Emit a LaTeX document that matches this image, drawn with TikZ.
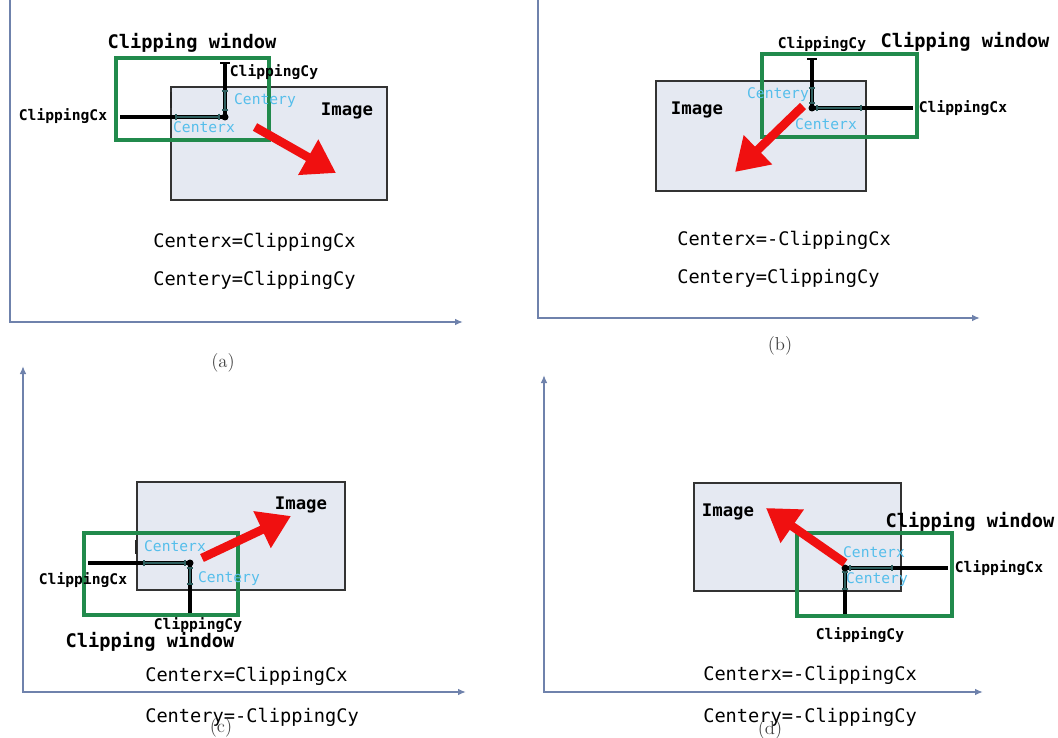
\documentclass[tikz,border=0pt]{standalone}
\usepackage{fontspec}
\usetikzlibrary{arrows.meta}
\newfontfamily\monofont{DejaVu Sans Mono}
\definecolor{axisblue}{HTML}{6F82AC}
\definecolor{imgfill}{HTML}{E5E9F2}
\definecolor{wingreen}{HTML}{218A4C}
\definecolor{measteal}{HTML}{2E5E5E}
\definecolor{lblblue}{HTML}{55BEEB}
\definecolor{motionred}{HTML}{F01010}
\newcommand\lblfont{\monofont\fontsize{11}{12}\selectfont}
\newcommand\titlefont{\monofont\bfseries\fontsize{14}{16}\selectfont}
\newcommand\imgfont{\monofont\bfseries\fontsize{13}{15}\selectfont}
\newcommand\eqfont{\monofont\fontsize{14}{16}\selectfont}
\newcommand\capfont{\fontsize{14}{16}\selectfont}
\begin{document}
\begin{tikzpicture}[x=0.75pt,y=-0.75pt,
  axisline/.style={draw=axisblue,line width=1.5pt,line join=miter},
  axtip/.style={-{Latex[length=6pt,width=5pt]}},
  imgbox/.style={draw=black!80,fill=imgfill,line width=1.1pt},
  clipwin/.style={draw=wingreen,line width=2.4pt},
  guide/.style={draw=black,line width=2.4pt},
  meas/.style={draw=measteal,line width=2pt,{Bar[width=5pt,line width=1.2pt]}-{Bar[width=5pt,line width=1.2pt]}},
  tickmark/.style={draw=black!85,line width=2pt},
  motion/.style={draw=motionred,line width=6.5pt,-{Triangle[length=24pt,width=29pt]}},
  lbl/.style={font=\lblfont\bfseries,text=black,inner sep=0pt},
  blbl/.style={font=\lblfont,text=lblblue,inner sep=0pt},
  wintitle/.style={font=\titlefont,text=black,inner sep=0pt},
  imglbl/.style={font=\imgfont,text=black,inner sep=0pt},
  eqtxt/.style={font=\eqfont,text=black,inner sep=0pt,anchor=west},
  captxt/.style={font=\capfont,text=black!75,inner sep=0pt}]
\useasboundingbox (0,0) rectangle (1058,738);

% ---------- (a) ----------
\coordinate (a-top) at (10,0);
\coordinate (a-o) at (10,322);
\coordinate (a-end) at (463,322);
\draw[axisline,axtip] (a-top) -- (a-o) -- (a-end);
\draw[imgbox] (171,87) rectangle (387,200);
\draw[clipwin] (116,58) rectangle (269,140);
\coordinate (a-c) at (225,117);
\coordinate (a-cx) at (120,117);
\coordinate (a-cy) at (225,62);
\draw[guide] (a-cx) -- (a-c);
\draw[guide,{Bar[width=7pt,line width=1.5pt]}-] (a-cy) -- (a-c);
\coordinate (a-mx1) at (175,117);
\coordinate (a-mx2) at (220,117);
\coordinate (a-my1) at (225,90);
\coordinate (a-my2) at (225,111);
\draw[meas] (a-mx1) -- (a-mx2);
\draw[meas] (a-my1) -- (a-my2);
\coordinate (a-t1) at (171,92);
\coordinate (a-t2) at (171,108);
\draw[tickmark] (a-t1) -- (a-t2);
\fill (a-c) circle (3.5);
\coordinate (a-r0) at (255,127);
\coordinate (a-r1) at (336,173);
\draw[motion] (a-r0) -- (a-r1);
\node[wintitle] (a-win) at (192,43) {Clipping window};
\node[lbl] (a-lcy) at (274,72) {ClippingCy};
\node[blbl] (a-lcey) at (265,101) {Centery};
\node[imglbl] (a-img) at (347,111) {Image};
\node[lbl] (a-lcx) at (63,116) {ClippingCx};
\node[blbl] (a-lcex) at (204,127) {Centerx};
\node[eqtxt] (a-eq1) at (153,242) {Centerx=ClippingCx};
\node[eqtxt] (a-eq2) at (153,280) {Centery=ClippingCy};
\node[captxt] (a-cap) at (223,363) {(a)};

% ---------- (b) ----------
\coordinate (b-top) at (538,0);
\coordinate (b-o) at (538,318);
\coordinate (b-end) at (980,318);
\draw[axisline,axtip] (b-top) -- (b-o) -- (b-end);
\draw[imgbox] (656,81) rectangle (866,191);
\draw[clipwin] (762,54) rectangle (917,137);
\coordinate (b-c) at (812,108);
\coordinate (b-cx) at (913,108);
\coordinate (b-cy) at (812,58);
\draw[guide] (b-c) -- (b-cx);
\draw[guide,{Bar[width=7pt,line width=1.5pt]}-] (b-cy) -- (b-c);
\coordinate (b-mx1) at (816,108);
\coordinate (b-mx2) at (862,108);
\coordinate (b-my1) at (812,87);
\coordinate (b-my2) at (812,104);
\draw[meas] (b-mx1) -- (b-mx2);
\draw[meas] (b-my1) -- (b-my2);
\fill (b-c) circle (3.5);
\coordinate (b-r0) at (803,106);
\coordinate (b-r1) at (735,172);
\draw[motion] (b-r0) -- (b-r1);
\node[lbl] (b-lcy) at (822,44) {ClippingCy};
\node[wintitle] (b-win) at (965,42) {Clipping window};
\node[imglbl] (b-img) at (697,110) {Image};
\node[blbl] (b-lcey) at (778,95) {Centery};
\node[blbl] (b-lcex) at (826,124) {Centerx};
\node[lbl] (b-lcx) at (963,108) {ClippingCx};
\node[eqtxt] (b-eq1) at (677,240) {Centerx=-ClippingCx};
\node[eqtxt] (b-eq2) at (677,278) {Centery=ClippingCy};
\node[captxt] (b-cap) at (780,346) {(b)};

% ---------- (c) ----------
\coordinate (c-top) at (23,366);
\coordinate (c-o) at (23,692);
\coordinate (c-end) at (466,692);
\draw[axisline,{Latex[length=6pt,width=5pt]}-{Latex[length=6pt,width=5pt]}] (c-top) -- (c-o) -- (c-end);
\draw[imgbox] (137,482) rectangle (345,590);
\draw[clipwin] (84,533) rectangle (238,615);
\coordinate (c-c) at (190,563);
\coordinate (c-cx) at (88,563);
\coordinate (c-cy) at (190,613);
\draw[guide] (c-cx) -- (c-c);
\draw[guide] (c-c) -- (c-cy);
\coordinate (c-mx1) at (143,563);
\coordinate (c-mx2) at (186,563);
\coordinate (c-my1) at (190,567);
\coordinate (c-my2) at (190,585);
\draw[meas] (c-mx1) -- (c-mx2);
\draw[meas] (c-my1) -- (c-my2);
\coordinate (c-t1) at (136,540);
\coordinate (c-t2) at (136,554);
\draw[tickmark] (c-t1) -- (c-t2);
\fill (c-c) circle (3.5);
\coordinate (c-r0) at (202,558);
\coordinate (c-r1) at (291,516);
\draw[motion] (c-r0) -- (c-r1);
\node[imglbl] (c-img) at (301,505) {Image};
\node[blbl] (c-lcex) at (175,546) {Centerx};
\node[blbl] (c-lcey) at (229,579) {Centery};
\node[lbl] (c-lcx) at (83,580) {ClippingCx};
\node[lbl] (c-lcy) at (198,625) {ClippingCy};
\node[wintitle] (c-win) at (150,642) {Clipping window};
\node[eqtxt] (c-eq1) at (145,676) {Centerx=ClippingCx};
\node[eqtxt] (c-eq2) at (145,717) {Centery=-ClippingCy};
\node[captxt] (c-cap) at (221,728) {(c)};

% ---------- (d) ----------
\coordinate (d-top) at (544,375);
\coordinate (d-o) at (544,692);
\coordinate (d-end) at (983,692);
\draw[axisline,{Latex[length=6pt,width=5pt]}-{Latex[length=6pt,width=5pt]}] (d-top) -- (d-o) -- (d-end);
\draw[imgbox] (694,483) rectangle (901,591);
\draw[clipwin] (797,533) rectangle (952,616);
\coordinate (d-c) at (845,568);
\coordinate (d-cx) at (948,568);
\coordinate (d-cy) at (845,614);
\draw[guide] (d-c) -- (d-cx);
\draw[guide] (d-c) -- (d-cy);
\coordinate (d-mx1) at (849,568);
\coordinate (d-mx2) at (893,568);
\coordinate (d-my1) at (845,571);
\coordinate (d-my2) at (845,590);
\draw[meas] (d-mx1) -- (d-mx2);
\draw[meas] (d-my1) -- (d-my2);
\fill (d-c) circle (3.5);
\coordinate (d-r0) at (845,563);
\coordinate (d-r1) at (766,508);
\draw[motion] (d-r0) -- (d-r1);
\node[imglbl] (d-img) at (728,512) {Image};
\node[wintitle] (d-win) at (970,522) {Clipping window};
\node[blbl] (d-lcex) at (874,552) {Centerx};
\node[blbl] (d-lcey) at (877,580) {Centery};
\node[lbl] (d-lcx) at (999,568) {ClippingCx};
\node[lbl] (d-lcy) at (860,635) {ClippingCy};
\node[eqtxt] (d-eq1) at (703,675) {Centerx=-ClippingCx};
\node[eqtxt] (d-eq2) at (703,717) {Centery=-ClippingCy};
\node[captxt] (d-cap) at (770,730) {(d)};
\end{tikzpicture}
\end{document}
